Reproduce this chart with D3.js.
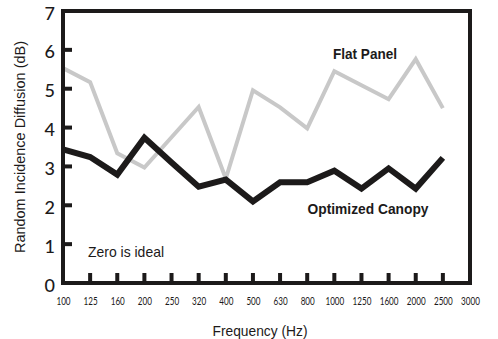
<!DOCTYPE html>
<html>
<head>
<meta charset="utf-8">
<script src="https://cdn.jsdelivr.net/npm/d3@7"></script>
<style>
  body { margin: 0; background: #fff; }
  svg { display: block; }
</style>
</head>
<body>
<div id="chart"></div>
<script>
(function() {
  var frequencies = ['100', '125', '160', '200', '250', '320', '400', '500', '630', '800', '1000', '1250', '1600', '2000', '2500', '3000'];
  var flatPanel = [5.53, 5.17, 3.34, 2.97, 3.75, 4.53, 2.69, 4.96, 4.52, 3.98, 5.45, 5.09, 4.73, 5.76, 4.5];
  var optimizedCanopy = [3.44, 3.24, 2.79, 3.74, 3.1, 2.48, 2.66, 2.1, 2.59, 2.59, 2.89, 2.43, 2.95, 2.43, 3.22];
  var yTicks = [0, 1, 2, 3, 4, 5, 6, 7];

  var width = 498, height = 339;
  var margin = {top: 11, right: 28, bottom: 56, left: 63};
  var w = width - margin.left - margin.right;
  var h = height - margin.top - margin.bottom;
  var textFont = '"Liberation Sans", Arial, sans-serif';
  var numFont = 'Lato, "Open Sans", sans-serif';
  var ink = '#1c1a1a';

  // squeeze a text to a given length to mimic the narrow face
  function squeeze(sel, len) {
    sel.attr('textLength', len).attr('lengthAdjust', 'spacingAndGlyphs');
  }

  var svg = d3.select('#chart').append('svg').attr('width', width).attr('height', height);
  var g = svg.append('g').attr('transform', 'translate(' + margin.left + ',' + margin.top + ')');

  var x = d3.scalePoint().domain(frequencies).range([0, w]);
  var y = d3.scaleLinear().domain([0, 7]).range([h, 0]);

  var line = d3.line().x(function(d, i) { return x(frequencies[i]); }).y(function(d) { return y(d); });

  g.append('path').datum(flatPanel).attr('d', line)
    .attr('fill', 'none').attr('stroke', '#c8c8c8').attr('stroke-width', 4);
  g.append('path').datum(optimizedCanopy).attr('d', line)
    .attr('fill', 'none').attr('stroke', ink).attr('stroke-width', 6);

  // frame
  g.append('rect').attr('width', w).attr('height', h)
    .attr('fill', 'none').attr('stroke', ink).attr('stroke-width', 4);

  // y ticks (inside)
  var yAxis = d3.axisLeft(y).tickValues(yTicks).tickFormat(d3.format('d')).tickSize(0).tickPadding(8);
  var ya = g.append('g').call(yAxis);
  ya.select('.domain').remove();
  ya.selectAll('text').attr('font-family', numFont).attr('font-size', 18).attr('font-weight', 500)
    .attr('fill', ink).attr('dy', '0.45em');
  g.selectAll('.ytick').data(yTicks.slice(1, 7)).enter().append('line')
    .attr('x1', 0).attr('x2', 9).attr('y1', function(d) { return y(d); }).attr('y2', function(d) { return y(d); })
    .attr('stroke', ink).attr('stroke-width', 4);

  // x ticks (inside, upward)
  var xAxis = d3.axisBottom(x).tickSize(0).tickPadding(14);
  var xa = g.append('g').attr('transform', 'translate(0,' + h + ')').call(xAxis);
  xa.select('.domain').remove();
  xa.selectAll('text').attr('font-family', numFont).attr('font-size', 11.5).attr('fill', ink)
    .each(function(d) { squeeze(d3.select(this), d.length * 4.7); });
  g.selectAll('.xtick').data(frequencies.slice(1, frequencies.length - 1)).enter().append('line')
    .attr('x1', function(d) { return x(d); }).attr('x2', function(d) { return x(d); })
    .attr('y1', h).attr('y2', h - 10)
    .attr('stroke', ink).attr('stroke-width', 4);

  // titles
  svg.append('text').attr('x', 260).attr('y', 336)
    .attr('text-anchor', 'middle').attr('font-family', textFont).attr('font-size', 15).attr('fill', ink)
    .text('Frequency (Hz)').call(squeeze, 95);
  svg.append('text').attr('transform', 'translate(25,147) rotate(-90)')
    .attr('text-anchor', 'middle').attr('font-family', textFont).attr('font-size', 15).attr('fill', ink)
    .text('Random Incidence Diffusion (dB)').call(squeeze, 212);

  // annotations
  g.append('text').attr('x', 365 - margin.left).attr('y', 59 - margin.top).attr('text-anchor', 'middle')
    .attr('font-family', textFont).attr('font-size', 15).attr('font-weight', 'bold').attr('fill', ink)
    .text('Flat Panel').call(squeeze, 64);
  g.append('text').attr('x', 368 - margin.left).attr('y', 214 - margin.top).attr('text-anchor', 'middle')
    .attr('font-family', textFont).attr('font-size', 15).attr('font-weight', 'bold').attr('fill', ink)
    .text('Optimized Canopy').call(squeeze, 121);
  g.append('text').attr('x', 88 - margin.left).attr('y', 257 - margin.top)
    .attr('font-family', textFont).attr('font-size', 15).attr('fill', ink)
    .text('Zero is ideal').call(squeeze, 76);
}).call(this);
</script>
</body>
</html>
